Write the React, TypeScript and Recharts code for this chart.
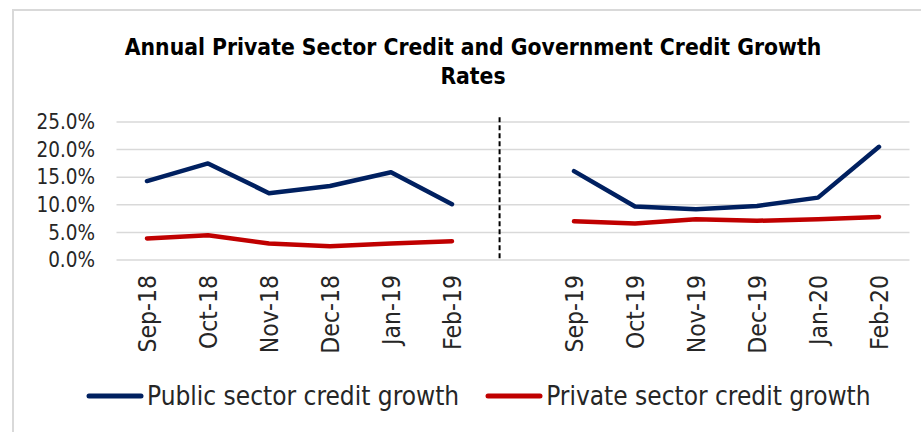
import { LineChart, Line, XAxis, YAxis, CartesianGrid, ReferenceLine, Legend } from "recharts";

const months = [
  "Sep-18", "Oct-18", "Nov-18", "Dec-18", "Jan-19", "Feb-19",
  "",
  "Sep-19", "Oct-19", "Nov-19", "Dec-19", "Jan-20", "Feb-20",
];

const publicGrowth = [14.3, 17.5, 12.1, 13.4, 15.9, 10.1, null, 16.1, 9.7, 9.2, 9.8, 11.3, 20.5];
const privateGrowth = [3.9, 4.5, 3.0, 2.5, 3.0, 3.4, null, 7.0, 6.6, 7.4, 7.1, 7.4, 7.8];

const yTicks = [0, 5, 10, 15, 20, 25];
const xTicks = [0, 1, 2, 3, 4, 5, 7, 8, 9, 10, 11, 12];
const breakPosition = 5.78;

const seriesOrder = ["Public sector credit growth", "Private sector credit growth"];

const font = "'DejaVu Sans Condensed', 'DejaVu Sans', sans-serif";
const textColor = "#262626";

const data = months.map((m, i) => ({
  idx: i,
  month: m,
  public: publicGrowth[i],
  private: privateGrowth[i],
}));

const MonthTick = (props: any) => {
  const { x, payload } = props;
  return (
    <g transform={`translate(${x},275) rotate(-90)`}>
      <text
        x={0}
        y={0}
        textAnchor="end"
        dominantBaseline="central"
        fill={textColor}
        fontSize={24.5}
        fontFamily={font}
      >
        {months[payload.value]}
      </text>
    </g>
  );
};

const LegendContent = (props: any) => {
  const items = [...(props.payload || [])].sort(
    (a: any, b: any) => seriesOrder.indexOf(a.value) - seriesOrder.indexOf(b.value)
  );
  return (
    <div style={{ display: "flex", alignItems: "center", gap: 26, fontFamily: font }}>
      {items.map((it: any) => (
        <div key={it.value} style={{ display: "flex", alignItems: "center" }}>
          <svg width={58} height={8} style={{ marginRight: 3 }}>
            <line x1={3} y1={4} x2={55} y2={4} stroke={it.color} strokeWidth={5} strokeLinecap="round" />
          </svg>
          <span style={{ fontSize: 26, color: textColor, whiteSpace: "nowrap" }}>{it.value}</span>
        </div>
      ))}
    </div>
  );
};

export default function App() {
  return (
    <div style={{ position: "absolute", left: 0, top: 0, width: 921, height: 432, background: "#fff", overflow: "hidden" }}>
      <div
        style={{
          position: "absolute",
          left: 12,
          top: 9,
          width: 930,
          height: 440,
          borderLeft: "2px solid #d9d9d9",
          borderTop: "2px solid #d9d9d9",
        }}
      />
      <div
        style={{
          position: "absolute",
          left: 273,
          width: 400,
          top: 33,
          textAlign: "center",
          fontFamily: font,
          fontWeight: "bold",
          fontSize: 22.7,
          lineHeight: "29px",
          color: "#000",
          display: "flex",
          flexDirection: "column",
          alignItems: "center",
        }}
      >
        <span style={{ whiteSpace: "nowrap" }}>Annual Private Sector Credit and Government Credit Growth</span>
        <span>Rates</span>
      </div>
      <LineChart
        width={921}
        height={432}
        data={data}
        margin={{ top: 122, right: 11.5, bottom: 0, left: 0 }}
        style={{ position: "absolute", left: 0, top: 0 }}
      >
        <CartesianGrid vertical={false} stroke="#d9d9d9" strokeWidth={1.5} />
        <XAxis
          dataKey="idx"
          type="number"
          domain={[-0.5, 12.5]}
          ticks={xTicks}
          interval={0}
          axisLine={false}
          tickLine={false}
          height={172}
          tick={<MonthTick />}
        />
        <YAxis
          domain={[0, 25]}
          ticks={yTicks}
          interval={0}
          width={116.5}
          axisLine={false}
          tickLine={false}
          tickMargin={15.5}
          tickFormatter={(v: number) => `${v.toFixed(1)}%`}
          tick={{ fill: textColor, fontSize: 20.5, fontFamily: font }}
        />
        <ReferenceLine
          segment={[{ x: breakPosition, y: 0.3 }, { x: breakPosition, y: 26 }]}
          stroke="#000"
          strokeWidth={2}
          strokeDasharray="5 3"
          ifOverflow="visible"
        />
        <Line
          type="linear"
          dataKey="public"
          name="Public sector credit growth"
          stroke="#002060"
          strokeWidth={4.5}
          strokeLinecap="round"
          strokeLinejoin="round"
          dot={false}
          isAnimationActive={false}
        />
        <Line
          type="linear"
          dataKey="private"
          name="Private sector credit growth"
          stroke="#C00000"
          strokeWidth={4.5}
          strokeLinecap="round"
          strokeLinejoin="round"
          dot={false}
          isAnimationActive={false}
        />
        <Legend
          layout="horizontal"
          verticalAlign="middle"
          align="center"
          content={<LegendContent />}
          wrapperStyle={{ top: 381, left: 86, width: "auto" }}
        />
      </LineChart>
    </div>
  );
}
